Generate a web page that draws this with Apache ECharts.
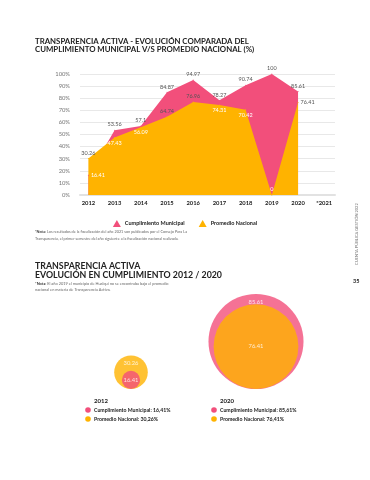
<!DOCTYPE html>
<html><head><meta charset="utf-8">
<script src="https://cdn.jsdelivr.net/npm/echarts@6/dist/echarts.min.js"></script>
<style>html,body{margin:0;padding:0;background:#fff}#c{width:370px;height:480px}</style>
</head><body><div id="c"></div>
<script>
// ---- data ----
const years = [2012, 2013, 2014, 2015, 2016, 2017, 2018, 2019, 2020];
const tickYears = [2012, 2013, 2014, 2015, 2016, 2017, 2018, 2019, 2020, 2021];
const tickLabels = ['2012', '2013', '2014', '2015', '2016', '2017', '2018', '2019', '2020', '*2021'];
const municipal = [16.41, 53.56, 57.10, 84.87, 94.97, 78.27, 90.74, 100, 85.61];
const nacional = [30.26, 47.43, 56.09, 64.74, 76.96, 74.31, 70.42, 0, 76.41];
const yTicks = [0, 10, 20, 30, 40, 50, 60, 70, 80, 90, 100];
const bubbleYears = ['2012', '2020'];
const bubbleMunicipal = [16.41, 85.61];
const bubbleNacional = [30.26, 76.41];
const seriesNames = ['Cumplimiento Municipal', 'Promedio Nacional'];

// ---- styles ----
const PINK = '#F24F7B', YEL = '#FFB300';
const FONT = 'Lato';
const munLabelPos = ['right', 'top', 'top', 'top', 'top', 'top', 'top', 'top', 'top'];
const munLabelCol = ['#fff', '#555', '#555', '#555', '#555', '#555', '#555', '#555', '#555'];
const nacLabelPos = ['top', 'bottom', 'bottom', 'top', 'top', 'bottom', 'bottom', 'top', 'right'];
const nacLabelCol = ['#555', '#fff', '#fff', '#555', '#555', '#fff', '#fff', '#fff', '#555'];
const fmt = v => (Math.round(v * 100) / 100).toString();

function mkData(vals, pos, col) {
  return vals.map((v, i) => ({
    value: [years[i], v],
    label: { position: pos[i], color: col[i], distance: 2 }
  }));
}

// bubbles: outer (larger) and inner (smaller) per year
const K = 1.11;
const outer = [], inner = [];
bubbleYears.forEach((y, i) => {
  const a = { v: bubbleMunicipal[i], c: PINK }, b = { v: bubbleNacional[i], c: YEL };
  const big = a.v >= b.v ? a : b, small = a.v >= b.v ? b : a;
  outer.push({ value: [y, big.v * K / 2], raw: big.v, symbolSize: big.v * K, itemStyle: { color: big.c } });
  inner.push({ value: [y, small.v * K / 2], raw: small.v, symbolSize: small.v * K, itemStyle: { color: small.c } });
});

const chart = echarts.init(document.getElementById('c'), null, { renderer: 'canvas' });

const graphics = [];
function txt(x, y, text, opt) {
  graphics.push(Object.assign({ type: 'text', x, y, style: Object.assign({ text, fontFamily: FONT, fill: '#333', fontSize: 6, textVerticalAlign: 'middle' }, opt || {}) }));
}
// titles
txt(35, 41, 'TRANSPARENCIA ACTIVA - EVOLUCIÓN COMPARADA DEL', { fontSize: 7.8, fontWeight: 'bold', fill: '#222' });
txt(35, 49, 'CUMPLIMIENTO MUNICIPAL V/S PROMEDIO NACIONAL (%)', { fontSize: 7.8, fontWeight: 'bold', fill: '#222' });
// note 1
graphics.push({ type: 'text', x: 35, y: 232, style: { text: '{b|*Nota:} Los resultados de la fiscalización del año 2021 son publicados por el Consejo Para La', fontFamily: FONT, fontSize: 3.8, fill: '#666', textVerticalAlign: 'middle', rich: { b: { fontWeight: 'bold', fill: '#333', fontSize: 3.8, fontFamily: FONT } } } });
txt(35, 239, 'Transparencia, el primer semestre del año siguiente a la fiscalización nacional realizada.', { fontSize: 3.8, fill: '#666' });
// section 2 title
txt(35, 266, 'TRANSPARENCIA ACTIVA', { fontSize: 8.8, fontWeight: 'bold', fill: '#222' });
txt(35, 275, 'EVOLUCIÓN EN CUMPLIMIENTO 2012 / 2020', { fontSize: 8.8, fontWeight: 'bold', fill: '#222' });
graphics.push({ type: 'text', x: 35, y: 284, style: { text: '{b|*Nota:} El año 2019 el municipio de Hualqui no se encontraba bajo el promedio', fontFamily: FONT, fontSize: 3.9, fill: '#666', textVerticalAlign: 'middle', rich: { b: { fontWeight: 'bold', fill: '#333', fontSize: 3.9, fontFamily: FONT } } } });
txt(35, 290, 'nacional en materia de Transparencia Activa.', { fontSize: 3.9, fill: '#666' });
// side text + page
graphics.push({ type: 'text', x: 357, y: 265, rotation: Math.PI / 2, style: { text: 'CUENTA PÚBLICA GESTIÓN 2022', fontFamily: FONT, fontSize: 4, fill: '#777', textVerticalAlign: 'middle' } });
txt(353, 281, '35', { fontSize: 5.5, fontWeight: 'bold', fill: '#222' });
// bubble legends
const legX = [88, 214];
bubbleYears.forEach((y, i) => {
  txt(legX[i] + 6, 401, y, { fontSize: 6, fontWeight: 'bold', fill: '#222' });
  graphics.push({ type: 'circle', shape: { cx: legX[i], cy: 410, r: 2.8 }, style: { fill: PINK } });
  graphics.push({ type: 'circle', shape: { cx: legX[i], cy: 419, r: 2.8 }, style: { fill: YEL } });
  txt(legX[i] + 6, 410, seriesNames[0] + ': ' + bubbleMunicipal[i].toFixed(2).replace('.', ',') + '%', { fontSize: 5.2, fontWeight: 'bold', fill: '#222' });
  txt(legX[i] + 6, 419, seriesNames[1] + ': ' + bubbleNacional[i].toFixed(2).replace('.', ',') + '%', { fontSize: 5.2, fontWeight: 'bold', fill: '#222' });
});

const labelBase = { show: true, fontFamily: FONT, fontSize: 5.5, formatter: p => fmt(p.value[1]) };

chart.setOption({
  animation: false,
  textStyle: { fontFamily: FONT },
  legend: {
    data: seriesNames.map(n => ({ name: n, icon: 'triangle' })),
    top: 215, left: 'center', itemWidth: 8, itemHeight: 7, itemGap: 14,
    textStyle: { fontSize: 5.5, fontWeight: 'bold', color: '#222', fontFamily: FONT, padding: [0, 0, 0, -1] }
  },
  grid: [
    { left: 80, right: 35, top: 74, bottom: 285 },
    { left: 68.5, right: 51.5, top: 290, bottom: 91 }
  ],
  xAxis: [
    {
      type: 'value', gridIndex: 0, min: 2011.68, max: 2021.41,
      splitLine: { show: false }, axisTick: { show: false },
      axisLine: { show: true, lineStyle: { color: '#e2e2e2', width: 2 } },
      axisLabel: {
        customValues: tickYears, margin: 5, fontSize: 5.8, fontWeight: 'bold', color: '#222', fontFamily: FONT,
        formatter: v => tickLabels[tickYears.indexOf(Math.round(v))]
      }
    },
    { type: 'category', gridIndex: 1, data: bubbleYears, show: false, boundaryGap: true }
  ],
  yAxis: [
    {
      type: 'value', gridIndex: 0, min: 0, max: 100, interval: 10,
      axisLine: { show: false }, axisTick: { show: false },
      splitLine: { lineStyle: { color: '#e8e8e8', width: 1 } },
      axisLabel: { margin: 10, fontSize: 5.8, color: '#777', fontFamily: FONT, formatter: '{value}%' }
    },
    { type: 'value', gridIndex: 1, min: 0, max: 99, show: false }
  ],
  series: [
    {
      name: seriesNames[0], type: 'line', xAxisIndex: 0, yAxisIndex: 0,
      data: mkData(municipal, munLabelPos, munLabelCol),
      symbol: 'circle', symbolSize: 1, color: PINK,
      lineStyle: { width: 0 }, areaStyle: { color: PINK, opacity: 1 },
      label: labelBase
    },
    {
      name: seriesNames[1], type: 'line', xAxisIndex: 0, yAxisIndex: 0,
      data: mkData(nacional, nacLabelPos, nacLabelCol),
      symbol: 'circle', symbolSize: 1, color: YEL,
      lineStyle: { width: 0 }, areaStyle: { color: YEL, opacity: 1 },
      label: labelBase
    },
    {
      type: 'scatter', xAxisIndex: 1, yAxisIndex: 1, data: outer,
      label: { show: true, position: 'insideTop', distance: 5, color: '#fff', fontSize: 5.8, fontFamily: FONT, formatter: p => fmt(p.data.raw) }
    },
    {
      type: 'scatter', xAxisIndex: 1, yAxisIndex: 1, data: inner,
      label: { show: true, position: 'inside', color: '#fff', fontSize: 5.8, fontFamily: FONT, formatter: p => fmt(p.data.raw) }
    }
  ],
  graphic: graphics
});
</script></body></html>
